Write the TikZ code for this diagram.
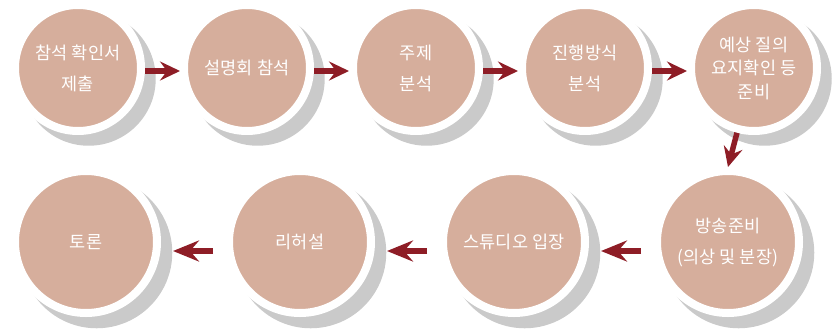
\documentclass[tikz,border=0pt]{standalone}
\usepackage{fontspec}
\newfontfamily\kr{Noto Sans CJK KR}
\usetikzlibrary{arrows.meta,shadows}
\definecolor{stepfill}{RGB}{214,174,156}
\definecolor{stepshadow}{RGB}{202,202,202}
\definecolor{flowred}{RGB}{142,29,38}
\tikzset{
    stepnode/.style={circle, fill=stepfill, draw=white, line width=8pt, text=white, align=center,
        font=\kr\fontsize{17.5}{31}\selectfont,
        drop shadow={shadow xshift=10pt, shadow yshift=-10pt, shadow scale=1.065, fill=stepshadow, opacity=1}},
    smallstep/.style={stepnode, minimum size=126pt},
    bigstep/.style={stepnode, minimum size=142pt},
    flow/.style={draw=flowred, line width=5.5pt, -{Stealth[length=20pt, width=19pt, inset=7pt]}},
    backflow/.style={flow, -{Stealth[length=26pt, width=21pt, inset=9pt]}, shorten <=12pt, shorten >=12pt}
}
\begin{document}
\begin{tikzpicture}[x=1pt, y=-1pt]
            \useasboundingbox (0,0) rectangle (836,330);
            \node[smallstep] (s1) at (78,68) {참석 확인서\\제출};
            \node[smallstep] (s2) at (247,68) {설명회 참석};
            \node[smallstep] (s3) at (416,68) {주제\\분석};
            \node[smallstep] (s4) at (585,68) {진행방식\\분석};
            \node[smallstep, font=\kr\fontsize{17.5}{23.5}\selectfont] (s5) at (754,68) {예상 질의\\요지확인 등\\준비};
            \node[bigstep] (s6) at (728,242) {방송준비\\(의상 및 분장)};
            \node[bigstep] (s7) at (514,242) {스튜디오 입장};
            \node[bigstep] (s8) at (300,242) {리허설};
            \node[bigstep] (s9) at (86,242) {토론};
            \draw[flow] ([yshift=-3pt]s1.east) -- ([yshift=-3pt]s2.west);
            \draw[flow] ([yshift=-3pt]s2.east) -- ([yshift=-3pt]s3.west);
            \draw[flow] ([yshift=-3pt]s3.east) -- ([yshift=-3pt]s4.west);
            \draw[flow] ([yshift=-3pt]s4.east) -- ([yshift=-3pt]s5.west);
            \draw[flow] (s5) -- (s6.north);
            \draw[backflow] ([yshift=-9pt]s6.west) -- ([yshift=-9pt]s7.east);
            \draw[backflow] ([yshift=-9pt]s7.west) -- ([yshift=-9pt]s8.east);
            \draw[backflow] ([yshift=-9pt]s8.west) -- ([yshift=-9pt]s9.east);
\end{tikzpicture}
\end{document}
